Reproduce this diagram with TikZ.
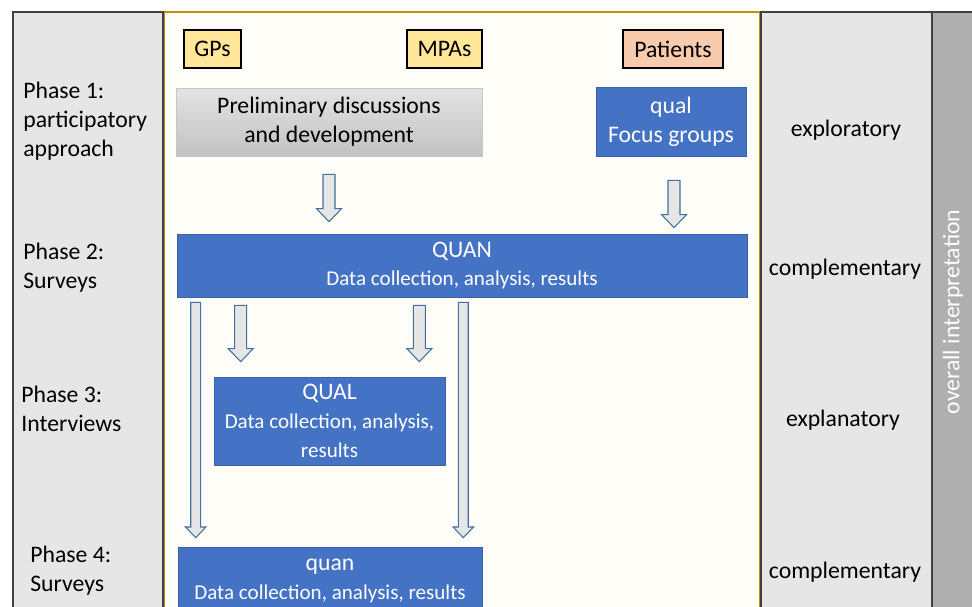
\documentclass[tikz,border=0pt]{standalone}
\usepackage{fontspec}
\setmainfont{Carlito}
\usepackage{tikz}
\usetikzlibrary{calc}
\newcommand{\datafont}{\fontsize{12}{14.5}\selectfont}
\definecolor{sidegray}{HTML}{E7E6E6}
\definecolor{stripgray}{HTML}{AFAFAF}
\definecolor{edgegray}{HTML}{404040}
\definecolor{panelcream}{HTML}{FFFDF8}
\definecolor{panelgold}{HTML}{BF9000}
\definecolor{qblue}{HTML}{4472C4}
\definecolor{groupyellow}{HTML}{FFE699}
\definecolor{grouporange}{HTML}{F8CBAD}
\definecolor{arrowedge}{HTML}{41719C}
\tikzset{
  every node/.style={font=\fontsize{13.5}{16.5}\selectfont},
  group/.style={draw=black, line width=0.8pt, minimum height=0.76cm, inner sep=0pt},
  method/.style={fill=qblue, draw=qblue!85!black, text=white, align=center, inner sep=0pt},
  phase/.style={anchor=west, align=left, inner sep=0pt},
  fatarrow/.style={draw=arrowedge, fill=sidegray, line width=0.6pt, line join=miter},
}
% block arrow straight down from #2 to the height of #3
\newcommand{\blockarrow}[3][1]{%
  \draw[fatarrow] let \p1=(#2), \p2=(#3) in
    (\x1-#1*0.12cm,\y1) -- (\x1+#1*0.12cm,\y1) -- (\x1+#1*0.12cm,\y2+#1*0.26cm)
    -- (\x1+#1*0.25cm,\y2+#1*0.26cm) -- (\x1,\y2) -- (\x1-#1*0.25cm,\y2+#1*0.26cm)
    -- (\x1-#1*0.12cm,\y2+#1*0.26cm) -- cycle;}

\begin{document}
\begin{tikzpicture}[x=0.02cm,y=-0.02cm]
\useasboundingbox (0,0) rectangle (972,607);
\clip (0,0) rectangle (972,607);
% columns
\filldraw[fill=panelcream, draw=panelgold, line width=1.2pt] (164,12) rectangle (760,640);
\filldraw[fill=sidegray, draw=edgegray, line width=1.2pt] (13,12) rectangle (163,640);
\filldraw[fill=sidegray, draw=edgegray, line width=1.2pt] (761,12) rectangle (932,640);
\filldraw[fill=stripgray, draw=edgegray, line width=1.2pt] (932,12) rectangle (980,640);

% phases
\node[phase] (ph1) at (23,121) {Phase 1:\\participatory\\approach};
\node[phase] (ph2) at (23,268) {Phase 2:\\Surveys};
\node[phase] (ph3) at (21,409) {Phase 3:\\Interviews};
\node[phase] (ph4) at (30,571) {Phase 4:\\Surveys};

% participants
\node[group, fill=groupyellow, minimum width=1.14cm] (gps) at (212.5,49) {GPs};
\node[group, fill=groupyellow, minimum width=1.5cm] (mpas) at (444.5,49) {MPAs};
\node[group, fill=grouporange, minimum width=2cm] (patients) at (673,49) {Patients};

% study parts
\node[draw=gray!45, top color=gray!22, bottom color=gray!48, align=center, inner sep=0pt,
  minimum width=6.12cm, minimum height=1.36cm] (prelim) at (329,122)
  {Preliminary discussions\\and development};
\node[method, minimum width=3cm, minimum height=1.38cm] (qual) at (671,121.5) {qual\\Focus groups};
\node[method, minimum width=11.4cm, minimum height=1.26cm] (QUAN) at (462,265.5)
  {QUAN\\\datafont Data collection, analysis, results};
\node[method, minimum width=4.62cm, minimum height=1.76cm] (QUAL) at (329.5,421)
  {QUAL\\\datafont Data collection, analysis,\\\datafont results};
\node[method, minimum width=6.08cm, minimum height=1.36cm] (quan) at (330,581)
  {quan\\\datafont Data collection, analysis, results};

% arrows
\blockarrow{[yshift=-0.36cm]prelim.south}{[yshift=0.24cm]QUAN.north}
\blockarrow{[xshift=0.06cm,yshift=-0.48cm]qual.south}{[yshift=0.12cm]QUAN.north}
\blockarrow[0.82]{[xshift=0.36cm,yshift=-0.1cm]QUAN.south -| quan.west}{[yshift=0.18cm]quan.north}
\blockarrow[0.82]{[xshift=-0.38cm,yshift=-0.1cm]QUAN.south -| quan.east}{[yshift=0.18cm]quan.north}
\blockarrow{[xshift=0.54cm,yshift=-0.16cm]QUAN.south -| QUAL.west}{[yshift=0.3cm]QUAL.north}
\blockarrow{[xshift=-0.52cm,yshift=-0.16cm]QUAN.south -| QUAL.east}{[yshift=0.3cm]QUAL.north}

% character of each phase
\node (r1) at (846,130) {exploratory};
\node (r2) at (845,269) {complementary};
\node (r3) at (843,420) {explanatory};
\node (r4) at (845,572) {complementary};
\node[rotate=90, text=white] (overall) at (953,312) {overall interpretation};
\end{tikzpicture}
\end{document}
